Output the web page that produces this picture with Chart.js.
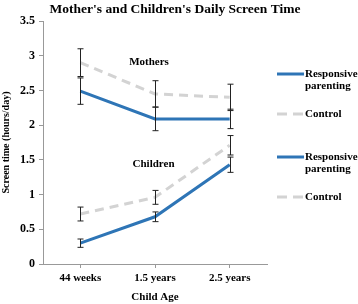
<!DOCTYPE html>
<html>
<head>
<meta charset="utf-8">
<script src="https://cdn.jsdelivr.net/npm/chart.js@4/dist/chart.umd.min.js"></script>
<style>
    html, body { margin: 0; padding: 0; background: #fff; }
    #wrap { width: 358px; height: 304px; }
</style>
</head>
<body>
<div id="wrap"><canvas id="screen_time_chart"></canvas></div>
<script>
const categories = ['44 weeks', '1.5 years', '2.5 years'];
const yTicks = [0, 0.5, 1, 1.5, 2, 2.5, 3, 3.5];

// mothers
const mothersResponsive = [2.49, 2.09, 2.09];
const mothersResponsiveErr = [0.19, 0.17, 0.14];
const mothersControl = [2.9, 2.45, 2.4];
const mothersControlErr = [0.2, 0.19, 0.19];

// children
const childrenResponsive = [0.3, 0.68, 1.43];
const childrenResponsiveErr = [0.06, 0.07, 0.11];
const childrenControl = [0.72, 0.96, 1.71];
const childrenControlErr = [0.1, 0.1, 0.14];

const BLUE = '#2e75b6';
const GREY = '#d3d3d3';
const SERIF = '"Liberation Serif", "DejaVu Serif", serif';

function fnLine(label, data, err, isControl){
    return {
        label: label,
        data: data,
        errors: err,
        borderColor: isControl ? GREY : BLUE,
        borderWidth: 3,
        borderDash: isControl ? [9, 6] : [],
        pointRadius: 0,
        fill: false,
        tension: 0
    };
}

// title, error bars, group notes and legend
const extrasPlugin = {
    id: 'extras',
    afterDatasetsDraw(chart){
        const ctx = chart.ctx;
        const x = chart.scales.x;
        const y = chart.scales.y;
        ctx.save();

        ctx.fillStyle = '#000';
        ctx.font = 'bold 13.5px ' + SERIF;
        ctx.textAlign = 'center';
        ctx.textBaseline = 'middle';
        ctx.fillText("Mother's and Children's Daily Screen Time", 175, 10);

        ctx.strokeStyle = '#222';
        ctx.lineWidth = 1;
        chart.data.datasets.forEach(ds => {
            ds.data.forEach((v, i) => {
                const px = Math.round(x.getPixelForValue(i)) + 0.5;
                const top = y.getPixelForValue(v + ds.errors[i]);
                const bot = y.getPixelForValue(v - ds.errors[i]);
                ctx.beginPath();
                ctx.moveTo(px, top); ctx.lineTo(px, bot);
                ctx.moveTo(px - 3, top); ctx.lineTo(px + 3, top);
                ctx.moveTo(px - 3, bot); ctx.lineTo(px + 3, bot);
                ctx.stroke();
            });
        });

        ctx.font = 'bold 11px ' + SERIF;
        ctx.fillText('Mothers', x.getPixelForValue(0.92), y.getPixelForValue(2.91));
        ctx.fillText('Children', x.getPixelForValue(0.98), y.getPixelForValue(1.44));

        // legend
        const itemY = [74, 114, 157, 197];
        ctx.textAlign = 'left';
        chart.data.datasets.forEach((ds, k) => {
            const ly = itemY[k];
            ctx.strokeStyle = ds.borderColor;
            ctx.lineWidth = 3;
            ctx.setLineDash(ds.borderDash.length ? [10, 6] : []);
            ctx.beginPath();
            ctx.moveTo(277, ly); ctx.lineTo(304, ly);
            ctx.stroke();
            ctx.setLineDash([]);
            ds.label.split(' ').forEach((w, j) => {
                ctx.fillText(w, 305, ly + j * 12);
            });
        });
        ctx.restore();
    }
};

const config = {
    type: 'line',
    data: {
        labels: categories,
        datasets: [
            fnLine('Responsive parenting', mothersResponsive, mothersResponsiveErr, false),
            fnLine('Control', mothersControl, mothersControlErr, true),
            fnLine('Responsive parenting', childrenResponsive, childrenResponsiveErr, false),
            fnLine('Control', childrenControl, childrenControlErr, true)
        ]
    },
    options: {
        responsive: true,
        maintainAspectRatio: false,
        animation: false,
        layout: { padding: { top: 21, right: 91, bottom: 0, left: 0 } },
        plugins: {
            legend: { display: false },
            tooltip: { enabled: false },
            title: { display: false }
        },
        scales: {
            x: {
                offset: true,
                grid: { drawOnChartArea: false, drawTicks: true, tickLength: 4, color: '#999' },
                border: { color: '#999' },
                ticks: { color: '#000', font: { family: SERIF, size: 11, weight: 'bold' }, padding: 4, maxRotation: 0 },
                title: {
                    display: true, text: 'Child Age', color: '#000',
                    font: { family: SERIF, size: 11, weight: 'bold' }, padding: { top: 4, bottom: 0 }
                },
                afterFit(scale){ scale.height = 40; }
            },
            y: {
                min: 0,
                max: 3.5,
                afterBuildTicks(scale){ scale.ticks = yTicks.map(v => ({ value: v })); },
                grid: { drawOnChartArea: false, drawTicks: true, tickLength: 4, color: '#999' },
                border: { color: '#999' },
                ticks: {
                    color: '#000',
                    font: { family: SERIF, size: 12, weight: 'bold' },
                    padding: 4,
                    callback: function(value){ return String(value); }
                },
                title: {
                    display: true, text: 'Screen time (hours/day)', color: '#000',
                    font: { family: SERIF, size: 10, weight: 'bold' }, padding: 0
                },
                afterFit(scale){ scale.width = 43; }
            }
        }
    },
    plugins: [extrasPlugin]
};

const screenChart = new Chart(document.getElementById('screen_time_chart'), config);
</script>
</body>
</html>
